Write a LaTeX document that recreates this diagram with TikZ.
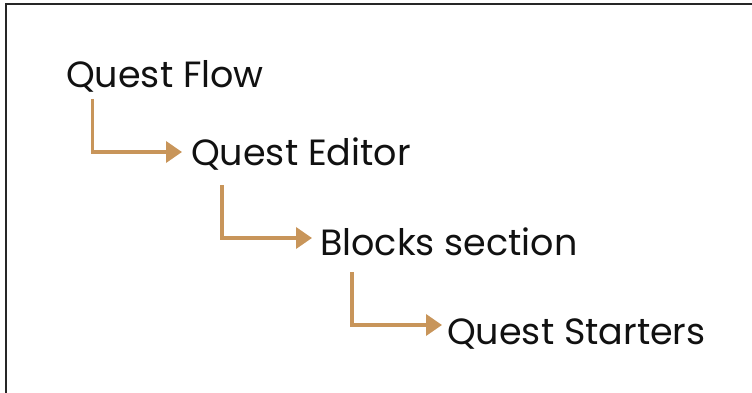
\documentclass[tikz,border=0pt]{standalone}
\usepackage{fontspec}
\setmainfont{Poppins}
\usetikzlibrary{arrows.meta}
\definecolor{arrowtan}{HTML}{C8955A}
\definecolor{txt}{HTML}{111111}
\tikzset{
  x=1pt, y=-1pt,
  lbl/.style={anchor=base west, inner sep=0pt, font=\fontsize{36.5}{42}\selectfont, text=txt},
  flowarrow/.style={draw=arrowtan, line width=3.6pt, -{Triangle[length=16pt,width=21pt]}},
  frame/.style={draw=black!85, line width=2pt}
}
\begin{document}
\begin{tikzpicture}
\useasboundingbox (0,0) rectangle (752,393);
\draw[frame] (6,393) -- (6,4) -- (752,4);
\node[lbl] (flow) at (66,88) {Quest Flow};
\node[lbl] (editor) at (191,165) {Quest Editor};
\node[lbl] (blocks) at (320,255) {Blocks section};
\node[lbl] (starters) at (447,344) {Quest Starters};
\draw[flowarrow] ([xshift=26.5pt,yshift=-11pt]flow.base west) |- ([xshift=-9pt,yshift=13pt]editor.base west);
\draw[flowarrow] ([xshift=31pt,yshift=-20pt]editor.base west) |- ([xshift=-8pt,yshift=17pt]blocks.base west);
\draw[flowarrow] ([xshift=32pt,yshift=-17pt]blocks.base west) |- ([xshift=-5pt,yshift=19pt]starters.base west);
\end{tikzpicture}
\end{document}
